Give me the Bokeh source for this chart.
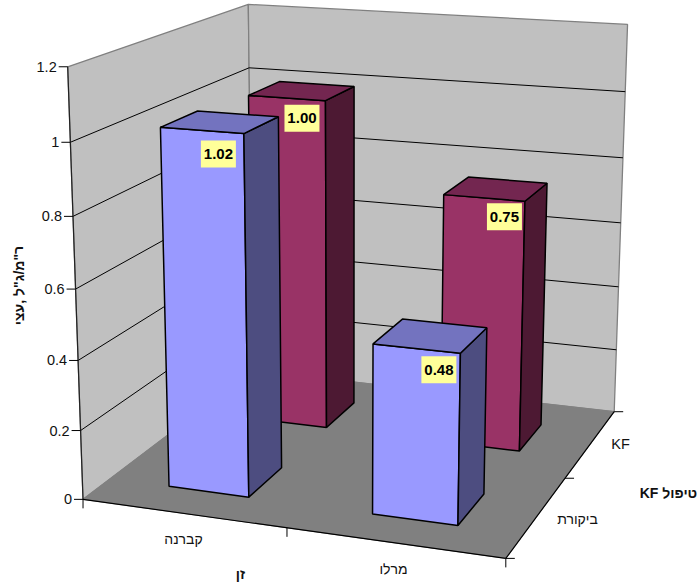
import numpy as np
from bokeh.embed import file_html
from bokeh.resources import INLINE
from bokeh.plotting import figure
from bokeh.models import Range1d
from bokeh.core.properties import value

# ---- data ----
categories = ["קברנה", "מרלו"]
depth_categories = ["ביקורת", "KF"]
series_control = [1.02, 0.48]   # ביקורת
series_kf = [1.00, 0.75]        # KF
value_ticks = [0, 0.2, 0.4, 0.6, 0.8, 1, 1.2]
value_tick_labels = ["0", "0.2", "0.4", "0.6", "0.8", "1", "1.2"]
x_title = "זן"
z_title = "KF טיפול"
y_title = 'ר"מ/ג"ל ,עצי'

# ---- camera: fits the 3-D box of the chart (x, z, value) to the page ----
Y_MAX = 1.2
box = [((0, 0, 0), (83, 499)), ((1, 0, 0), (505, 558)), ((1, 1, 0), (614, 411)),
       ((0, 1, 0), (252, 370)), ((0, 0, Y_MAX), (67, 66)), ((0, 1, Y_MAX), (248, 4)),
       ((1, 1, Y_MAX), (627, 24))]
A, b = [], []
for (X, Z, Y), (u, v) in box:
    A.append([X, Z, Y, 1, 0, 0, 0, 0, -u * X, -u * Z, -u * Y]); b.append(u)
    A.append([0, 0, 0, 0, X, Z, Y, 1, -v * X, -v * Z, -v * Y]); b.append(v)
M = np.append(np.linalg.lstsq(np.array(A, float), np.array(b, float), rcond=None)[0], 1).reshape(3, 4)


def proj(X, Z, Y):
    u, v, w = M @ np.array([X, Z, Y, 1.0])
    return float(u / w), float(v / w)


W, H = 698, 582
p = figure(width=W, height=H, output_backend="svg", toolbar_location=None,
           x_range=Range1d(0, W), y_range=Range1d(H, 0), min_border=0,
           x_axis_type="linear", background_fill_color="white", border_fill_color="white")
p.axis.visible = False
p.grid.visible = False
p.outline_line_color = None


def face(points, fill, line="black", lw=1.5):
    xy = [proj(*q) for q in points]
    p.patch([a for a, _ in xy], [c for _, c in xy], fill_color=fill, line_color=line, line_width=lw)


def seg(a, c, color="black", lw=1.0):
    p.line([a[0], c[0]], [a[1], c[1]], line_color=color, line_width=lw)


WALL, FLOOR, EDGE = "#C0C0C0", "#808080", "#808080"
face([(0, 0, 0), (0, 1, 0), (0, 1, Y_MAX), (0, 0, Y_MAX)], WALL, EDGE, 1.3)
face([(0, 1, 0), (1, 1, 0), (1, 1, Y_MAX), (0, 1, Y_MAX)], WALL, EDGE, 1.3)
face([(0, 0, 0), (1, 0, 0), (1, 1, 0), (0, 1, 0)], FLOOR, FLOOR, 1)

for t in value_ticks[1:-1]:
    seg(proj(0, 0, t), proj(0, 1, t))
    seg(proj(0, 1, t), proj(1, 1, t))

# axis lines and ticks
seg(proj(0, 0, 0), proj(0, 0, Y_MAX), "#222222", 1.2)
seg(proj(0, 0, 0), proj(1, 0, 0), "black", 1.2)
seg(proj(1, 0, 0), proj(1, 1, 0), "black", 1.2)
for t, lab in zip(value_ticks, value_tick_labels):
    u, v = proj(0, 0, t)
    seg((u - 9, v), (u, v))
    p.text([u - 11], [v], text=[lab], text_align="right", text_baseline="middle",
           text_font=value("Liberation Sans"), text_font_size="14.5px", text_color="#111111")
for f in (0, 0.5, 1):
    u, v = proj(f, 0, 0)
    seg((u, v), (u, v + 9))
for f in (0, 0.5, 1):
    u, v = proj(1, f, 0)
    seg((u, v), (u + 9, v))

# bars
BAR_HALF = 0.2
Z_SHIFT = -0.01
SIDE = {"a": ("#9999FF", "#4D4D80", "#7373BF"), "b": ("#993366", "#4D1933", "#732650")}
LABEL_OFFSET = {(0, 0): (-8, 7), (1, 0): (-4, 3), (0, 1): (-6, 4), (1, 1): (-3, 2)}


def bar(ci, di, val, colors):
    front, side, top = colors
    x0, x1 = (ci + 0.5 - BAR_HALF) / 2, (ci + 0.5 + BAR_HALF) / 2
    z0, z1 = (di + 0.5 - BAR_HALF) / 2 + Z_SHIFT, (di + 0.5 + BAR_HALF) / 2 + Z_SHIFT
    face([(x0, z0, 0), (x1, z0, 0), (x1, z0, val), (x0, z0, val)], front)
    face([(x1, z0, 0), (x1, z1, 0), (x1, z1, val), (x1, z0, val)], side)
    face([(x0, z0, val), (x1, z0, val), (x1, z1, val), (x0, z1, val)], top)


label_boxes = []
for di, (vals, key) in sorted(enumerate([(series_control, "a"), (series_kf, "b")]), key=lambda e: -e[0]):
    for ci, val in enumerate(vals):
        bar(ci, di, val, SIDE[key])
        label_boxes.append((ci, di, val))

for ci, di, val in label_boxes:
    x1 = (ci + 0.5 + BAR_HALF) / 2
    z0 = (di + 0.5 - BAR_HALF) / 2 + Z_SHIFT
    u, v = proj(x1, z0, val)
    dx, dy = LABEL_OFFSET[(ci, di)]
    L, R, T, B = u + dx - 35, u + dx, v + dy, v + dy + 27
    p.quad(left=[L], right=[R], top=[T], bottom=[B], fill_color="#FFFF99", line_color=None)
    p.text([(L + R) / 2], [(T + B) / 2], text=[f"{val:.2f}"], text_align="center", text_baseline="middle",
           text_font=value("Liberation Sans"), text_font_style="bold", text_font_size="15px", text_color="black")


def label(u, v, s, bold=False, angle=0.0, size="14px"):
    p.text([u], [v], text=[s], text_align="center", text_baseline="middle", angle=[angle],
           text_font=value("Liberation Sans"), text_font_style="bold" if bold else "normal",
           text_font_size=size, text_color="#111111")


label(183, 538, categories[0])
label(393, 568, categories[1])
label(577, 518, depth_categories[0])
label(620, 443, depth_categories[1], size="14.5px")
label(240, 573, x_title, bold=True)
label(668, 492, z_title, bold=True)
label(18, 285, y_title, bold=True, angle=np.pi / 2)

open("out.html", "w").write(file_html(p, INLINE))
